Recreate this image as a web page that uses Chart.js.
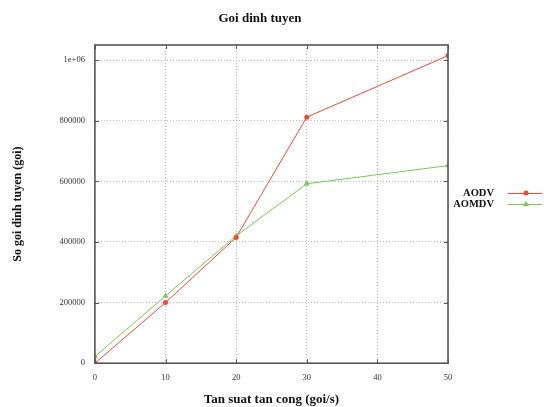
<!DOCTYPE html>
<html><head><meta charset="utf-8">
<script src="https://cdn.jsdelivr.net/npm/chart.js@4/dist/chart.umd.min.js"></script>
<style>html,body{margin:0;padding:0;background:#fff}#wrap{width:544px;height:407px}</style>
</head><body><div id="wrap"><canvas id="c" width="544" height="407"></canvas></div>
<script>
const chartTitle = 'Goi dinh tuyen';
const xValues = [0, 10, 20, 30, 50];
const aodv = [0, 200000, 415000, 812000, 1015000];
const aomdv = [22000, 222000, 420000, 592000, 652000];
const seriesNames = ['AODV', 'AOMDV'];
const xTicks = [0, 10, 20, 30, 40, 50];
const yTicks = [0, 200000, 400000, 600000, 800000, 1000000];
const yTickLabels = ['0', '200000', '400000', '600000', '800000', '1e+06'];

const RED = '#ee4a3a', GREEN = '#7cc65a';
const serif = "'Liberation Serif', 'DejaVu Serif', serif";

const decor = {
  id: 'decor',
  afterDraw(chart) {
    const {ctx, chartArea: a, scales} = chart;
    ctx.save();
    // title
    ctx.font = "bold 13px " + serif;
    ctx.fillStyle = '#111'; ctx.textAlign = 'center'; ctx.textBaseline = 'middle';
    ctx.fillText(chartTitle, 260, 19);
    // inner ticks
    ctx.strokeStyle = '#555'; ctx.lineWidth = 1;
    xTicks.forEach(v => {
      const x = Math.round(scales.x.getPixelForValue(v)) + 0.5;
      ctx.beginPath(); ctx.moveTo(x, a.bottom); ctx.lineTo(x, a.bottom - 4);
      ctx.moveTo(x, a.top); ctx.lineTo(x, a.top + 4); ctx.stroke();
    });
    yTicks.forEach(v => {
      const y = Math.round(scales.y.getPixelForValue(v)) + 0.5;
      ctx.beginPath(); ctx.moveTo(a.left, y); ctx.lineTo(a.left + 4, y);
      ctx.moveTo(a.right, y); ctx.lineTo(a.right - 4, y); ctx.stroke();
    });
    ctx.strokeStyle = '#555'; ctx.lineWidth = 1.6;
    ctx.strokeRect(a.left, a.top, a.right - a.left, a.bottom - a.top);
    // legend
    const items = [{t: seriesNames[0], c: RED, s: 'circle'}, {t: seriesNames[1], c: GREEN, s: 'triangle'}];
    ctx.font = "bold 10.5px " + serif;
    ctx.textAlign = 'right'; ctx.textBaseline = 'middle';
    items.forEach((it, i) => {
      const y = 193 + i * 11;
      ctx.fillStyle = '#111';
      ctx.fillText(it.t, 494, y);
      ctx.strokeStyle = it.c; ctx.lineWidth = 1;
      ctx.beginPath(); ctx.moveTo(508, y + 0.5); ctx.lineTo(542, y + 0.5); ctx.stroke();
      ctx.fillStyle = it.c;
      ctx.beginPath();
      if (it.s === 'circle') { ctx.arc(526, y, 2.5, 0, Math.PI * 2); }
      else { ctx.moveTo(526, y - 3); ctx.lineTo(529, y + 2); ctx.lineTo(523, y + 2); ctx.closePath(); }
      ctx.fill();
    });
    ctx.restore();
  }
};

new Chart(document.getElementById('c'), {
  type: 'line',
  data: {
    datasets: [
      {label: seriesNames[0], data: xValues.map((x, i) => ({x, y: aodv[i]})),
       borderColor: RED, backgroundColor: RED, borderWidth: 1, pointStyle: 'circle', pointRadius: 2.5, pointBorderWidth: 0, tension: 0},
      {label: seriesNames[1], data: xValues.map((x, i) => ({x, y: aomdv[i]})),
       borderColor: GREEN, backgroundColor: GREEN, borderWidth: 1, pointStyle: 'triangle', pointRadius: 3.5, pointBorderWidth: 0, tension: 0}
    ]
  },
  options: {
    responsive: false, animation: false,
    layout: {padding: {top: 45, right: 96, bottom: 0, left: 6}},
    plugins: {legend: {display: false}, tooltip: {enabled: false}, title: {display: false}},
    scales: {
      x: {type: 'linear', min: 0, max: 50,
          ticks: {stepSize: 10, color: '#333', font: {family: serif, size: 8.5}, padding: 9},
          grid: {color: '#aaa', lineWidth: 0.8, drawTicks: false},
          border: {display: false, dash: [1, 2]},
          title: {display: true, text: 'Tan suat tan cong (goi/s)', color: '#111', font: {family: serif, size: 13, weight: 'bold'}, padding: {top: 0, bottom: 0}}},
      y: {type: 'linear', min: 0, max: 1050000,
          afterBuildTicks: s => { s.ticks = yTicks.map(v => ({value: v})); },
          ticks: {color: '#333', font: {family: serif, size: 8.5}, padding: 10,
                  callback: v => { const i = yTicks.indexOf(v); return i >= 0 ? yTickLabels[i] : ''; }},
          grid: {color: '#aaa', lineWidth: 0.8, drawTicks: false},
          border: {display: false, dash: [1, 2]},
          title: {display: true, text: 'So goi dinh tuyen (goi)', color: '#111', font: {family: serif, size: 12, weight: 'bold'}, padding: {top: 5, bottom: 24}}}
    }
  },
  plugins: [decor]
});
</script></body></html>
